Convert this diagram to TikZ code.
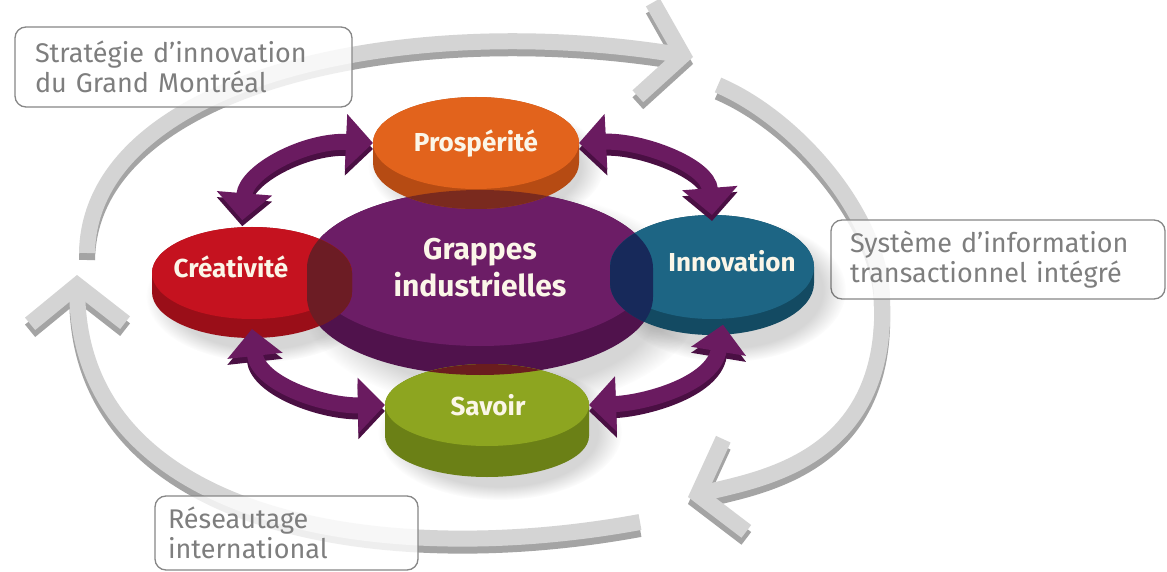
\documentclass[tikz,border=0pt]{standalone}
\usepackage{fontspec}
\setmainfont{Fira Sans}
\usetikzlibrary{arrows.meta,shapes.geometric,fadings}
\definecolor{ringface}{HTML}{D4D4D4}
\definecolor{ringside}{HTML}{A4A4A4}
\definecolor{lblborder}{HTML}{878787}
\definecolor{lbltext}{HTML}{7E7E7E}
\definecolor{disktext}{HTML}{FBF6E8}
\definecolor{Ptop}{HTML}{E2631C}
\definecolor{Pside}{HTML}{B64B13}
\definecolor{Gtop}{HTML}{6C1D66}
\definecolor{Gside}{HTML}{50124C}
\definecolor{Ctop}{HTML}{C5121F}
\definecolor{Cside}{HTML}{9A0E18}
\definecolor{Itop}{HTML}{1D6584}
\definecolor{Iside}{HTML}{134A62}
\definecolor{Stop}{HTML}{8DA520}
\definecolor{Sside}{HTML}{6B8016}
\definecolor{olP}{HTML}{7A2A1E}
\definecolor{olC}{HTML}{6C1C24}
\definecolor{olI}{HTML}{17295A}
\definecolor{olS}{HTML}{6A1D1E}
\definecolor{arrtop}{HTML}{6A1B60}
\definecolor{arrside}{HTML}{4A0F43}
\tikzset{
  disksil/.style n args={5}{insert path={(#1-#3,#2) -- (#1-#3,#2+#5)
      arc[start angle=180,end angle=360,x radius=#3pt,y radius=#4pt]
      -- (#1+#3,#2) arc[start angle=0,end angle=180,x radius=#3pt,y radius=#4pt] -- cycle}},
  disk/.style={ellipse, inner sep=0pt, outer sep=0pt},
  disklbl/.style={text=disktext, anchor=base, inner sep=0pt,
      font=\bfseries\fontsize{26}{28}\selectfont},
  softshadow/.style={fill=black, fill opacity=0.16,
      path fading=circle with fuzzy edge 20 percent},
  lbl/.style={draw=lblborder, line width=1.3pt, rounded corners=11pt, fill=white,
      fill opacity=0.82, text opacity=1, text=lbltext, align=left,
      font=\fontsize{27}{30}\selectfont, inner ysep=0pt},
  ringstroke/.style={line width=16pt, -{Straight Barb[length=38pt,width=95pt]}},
  arrstroke/.style={line width=16pt,
      {Triangle[width=54pt,length=27pt]}-{Triangle[width=54pt,length=27pt]}},
}
\newcommand\RingPaths[1]{%
  \draw[ringstroke,#1] (ta) .. controls +(3,-173) and +(-293,-47) .. (tb);
  \draw[ringstroke,#1] (ra) .. controls +(82,35) and +(0,-80) .. (rm)
        .. controls +(6,160) and +(72,-18) .. (rb);
  \draw[ringstroke,#1] (ba) .. controls +(-260,48) and +(3,245) .. (bb);
}
\newcommand\ArrowPaths[1]{%
  \draw[arrstroke,#1] ([yshift=7pt]C.102) .. controls +(4,-49) and +(-68,-3) .. (P.180);
  \draw[arrstroke,#1] (P.0) .. controls +(61,-3) and +(-4,-50) .. (I.90);
  \draw[arrstroke,#1] ([yshift=-6pt]I.282) .. controls +(-10,60) and +(55,-2) .. (S.0);
  \draw[arrstroke,#1] ([yshift=-10pt]C.270) .. controls +(6,54) and +(-63,1) .. (S.180);
}
\begin{document}
\begin{tikzpicture}[x=1pt,y=-1pt]
\useasboundingbox (0,0) rectangle (1167,572);
\fill[white] (0,0) rectangle (1167,572);

% ---- grey ring
\coordinate (ta) at (87,253);  \coordinate (tb) at (693,57);
\coordinate (ra) at (718,85);  \coordinate (rm) at (882,300); \coordinate (rb) at (688,497);
\coordinate (ba) at (640,522); \coordinate (bb) at (77,275);
\begin{scope}[transform canvas={yshift=-7pt}]
  \RingPaths{draw=ringside}
\end{scope}
\RingPaths{draw=ringface}

% ---- label boxes
\node[lbl, text width=297pt, inner xsep=20pt, minimum height=80pt] (l1) at (183.5,67)
  {Stratégie d'innovation\\du Grand Montréal};
\node[lbl, text width=296pt, inner xsep=19pt, minimum height=79pt] (l2) at (998,259.5)
  {Système d'information\\transactionnel intégré};
\node[lbl, text width=237pt, inner xsep=13pt, minimum height=74pt] (l3) at (286.5,533)
  {Réseautage\\international};

% ---- soft shadows
\fill[softshadow] (500,300) ellipse[x radius=200pt, y radius=110pt];
\fill[softshadow] (500,432) ellipse[x radius=122pt, y radius=68pt];
\fill[softshadow] (728,290) ellipse[x radius=118pt, y radius=72pt];
\fill[softshadow] (262,296) ellipse[x radius=116pt, y radius=66pt];
\fill[softshadow] (486,166) ellipse[x radius=118pt, y radius=64pt];

% ---- disks
\fill[Gside, disksil={480}{268}{173}{78}{29}];
\node[disk, fill=Gtop, minimum width=346pt, minimum height=156pt, text=disktext,
      font=\bfseries\fontsize{30}{37}\selectfont, align=center] (G) at (480,268)
  {Grappes\\industrielles};
\fill[Pside, disksil={476}{143}{103}{46}{20}];
\node[disk, fill=Ptop, minimum width=206pt, minimum height=92pt] (P) at (476,143) {};
\fill[Cside, disksil={252}{273}{100}{46}{19}];
\node[disk, fill=Ctop, minimum width=200pt, minimum height=92pt] (C) at (252,273) {};
\fill[Iside, disksil={712}{267}{102}{52}{16}];
\node[disk, fill=Itop, minimum width=204pt, minimum height=104pt] (I) at (712,267) {};
\fill[Sside, disksil={487}{405}{102}{41}{31}];
\node[disk, fill=Stop, minimum width=204pt, minimum height=82pt] (S) at (487,405) {};

% ---- overlaps with the central disk
\begin{scope}
  \clip[disksil={476}{143}{103}{46}{20}];
  \fill[olP, disksil={480}{268}{173}{78}{29}];
\end{scope}
\begin{scope}
  \clip[disksil={252}{273}{100}{46}{19}];
  \fill[olC, disksil={480}{268}{173}{78}{29}];
\end{scope}
\begin{scope}
  \clip[disksil={712}{267}{102}{52}{16}];
  \fill[olI, disksil={480}{268}{173}{78}{29}];
\end{scope}
\begin{scope}
  \clip[disksil={487}{405}{102}{41}{31}];
  \fill[olS, disksil={480}{268}{173}{78}{29}];
\end{scope}

% ---- disk labels
\node[disklbl] (Pt) at (476,152) {Prospérité};
\node[disklbl] (Ct) at (231,277) {Créativité};
\node[disklbl] (It) at (732,271) {Innovation};
\node[disklbl] (St) at (488,415) {Savoir};

% ---- purple double arrows
\begin{scope}[transform canvas={yshift=-6pt}]
  \ArrowPaths{draw=arrside}
\end{scope}
\ArrowPaths{draw=arrtop}
\end{tikzpicture}
\end{document}
